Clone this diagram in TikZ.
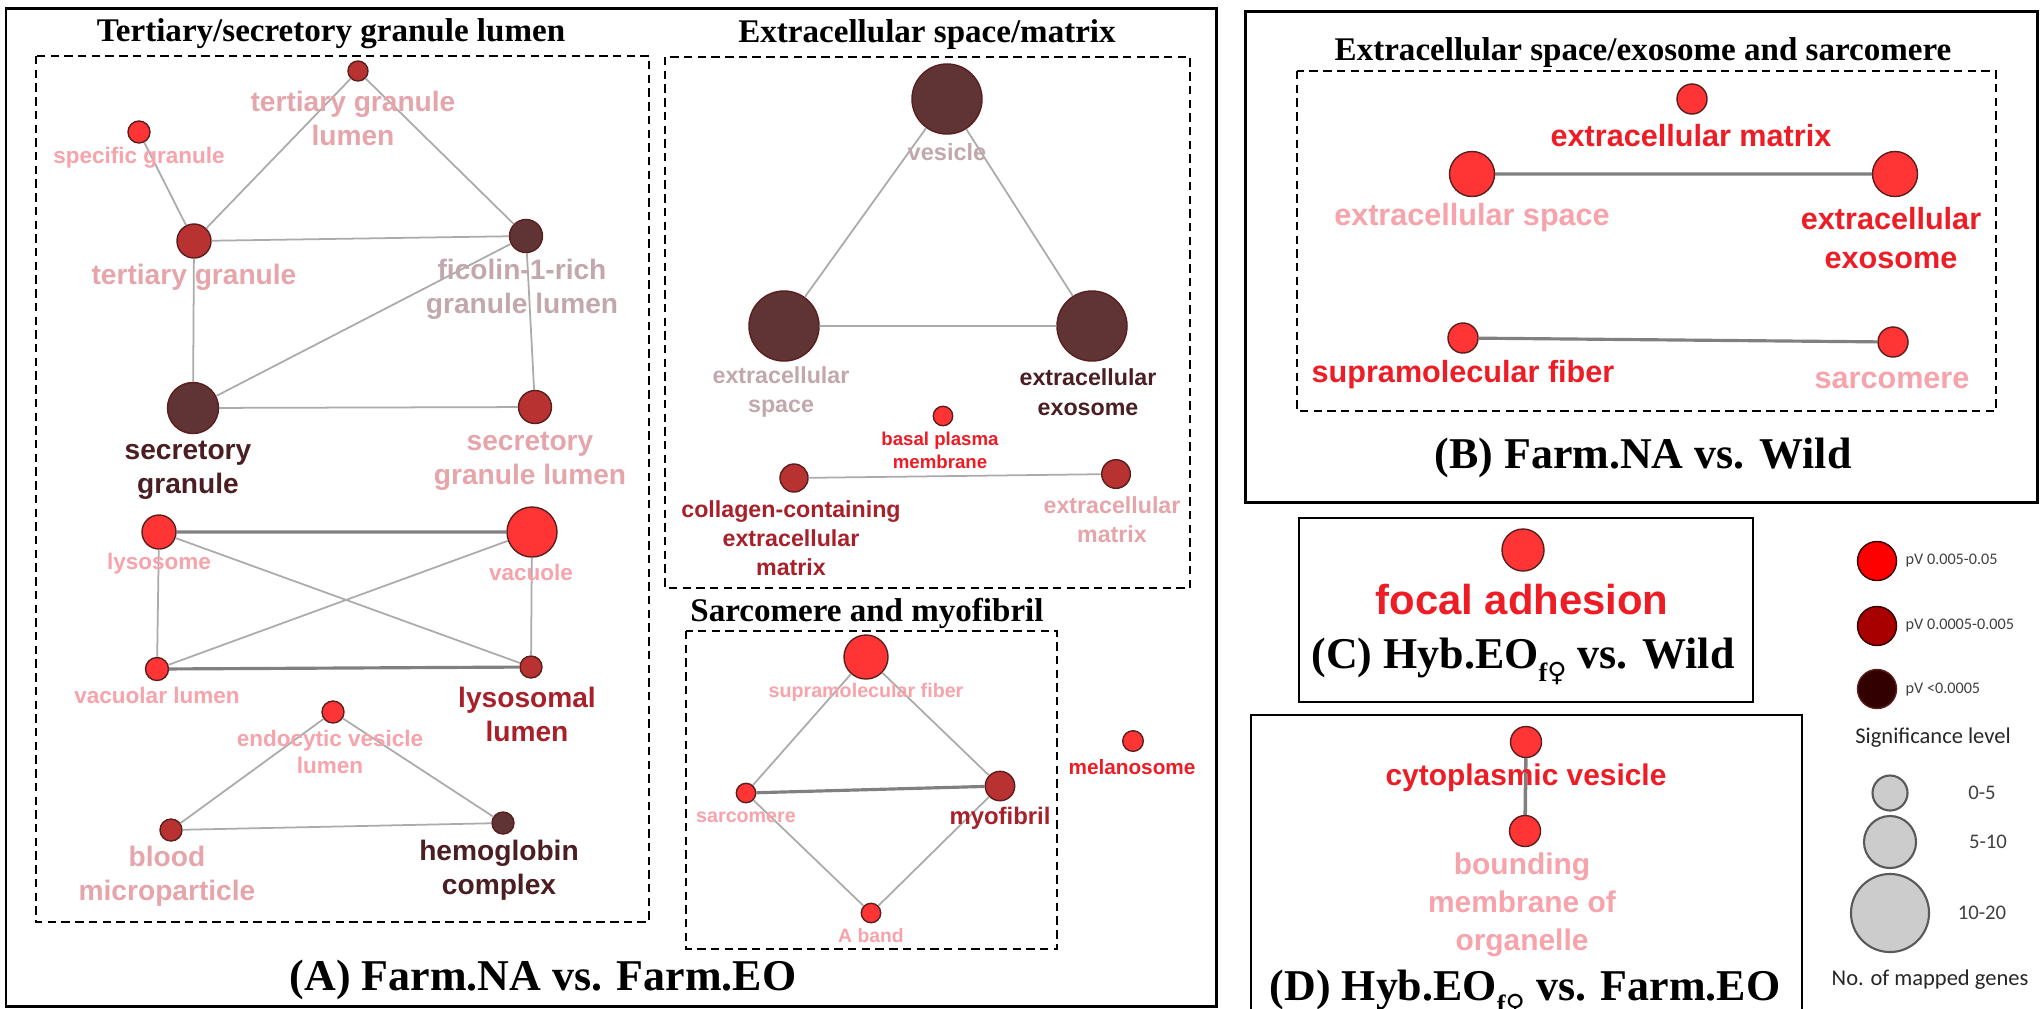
\documentclass[tikz,border=0pt]{standalone}
\usepackage{fontspec}
\setmainfont{Liberation Serif}
\setsansfont{Liberation Sans}
\newfontfamily\legendfont{Carlito}
\newfontfamily\symbolfont{DejaVu Sans}
% Farben der Knoten (Signifikanz) und der Beschriftungen
\definecolor{hellrot}{HTML}{FF3535}
\definecolor{mittelrot}{HTML}{B83232}
\definecolor{dunkelbraun}{HTML}{603434}
\definecolor{randlinie}{HTML}{5A1E1E}
\definecolor{kantengrau}{HTML}{ABABAB}
\definecolor{kantendunkel}{HTML}{808080}
\definecolor{txtrosa}{HTML}{F7A3AB}
\definecolor{txtaltrosa}{HTML}{E5A5AA}
\definecolor{txtmauve}{HTML}{C2A8AC}
\definecolor{txtdunkel}{HTML}{4A1E22}
\definecolor{txtweinrot}{HTML}{A8202A}
\definecolor{txtrot}{HTML}{EE1C25}
\definecolor{legrot}{HTML}{FF0000}
\definecolor{legmittel}{HTML}{A80000}
\definecolor{legdunkel}{HTML}{330000}
\definecolor{leggrau}{HTML}{CCCCCC}
\definecolor{legtext}{HTML}{404040}
% Index "f" mit Venussymbol
\newcommand{\femsub}{\raisebox{-0.3em}{\fontsize{7.5}{8}\selectfont f{\symbolfont\mdseries ♀}}}
\tikzset{
    begriff/.style 2 args={circle, draw=randlinie, line width=0.4pt, fill=#1, minimum size=#2*0.02cm, inner sep=0pt},
    kante/.style={draw=kantengrau, line width=0.5pt},
    kante dick/.style={draw=kantendunkel, line width=0.9pt},
    etikett/.style={align=center, inner sep=0pt},
    schrift/.style 2 args={font=\sffamily\bfseries\fontsize{#1}{#2}\selectfont},
    titel/.style={inner sep=0pt, font=\bfseries\fontsize{9.4}{11}\selectfont},
    panel/.style={inner sep=0pt, font=\bfseries\fontsize{12.5}{14}\selectfont},
    rahmen/.style={draw=black, line width=0.85pt},
    gruppe/.style={draw=black, line width=0.55pt, dash pattern=on 2.4pt off 1.5pt},
    legende/.style={inner sep=0pt, text=legtext, font=\legendfont\fontsize{#1}{#1}\selectfont},
}
\begin{document}
\begin{tikzpicture}[x=0.01cm, y=-0.01cm]
    % Zeichenfläche in Pixeln des Originals (2043 x 1008), die y-Achse zeigt nach unten:
    \useasboundingbox (0,0) rectangle (2043,1008);
    \fill[white] (0,0) rectangle (2043,1008);
    % Die vier äußeren Rahmen (A) bis (D); (D) reicht über den unteren Bildrand hinaus
    \draw[rahmen] (6,8) rectangle (1216,1006);
    \draw[rahmen] (1245,11) rectangle (2037,502);
    \draw[rahmen, line width=0.65pt] (1299,518) rectangle (1753,702);
    \draw[rahmen, line width=0.65pt] (1251,715) rectangle (1802,1020);
    % Gestrichelte Gruppen
    \draw[gruppe] (36,56) rectangle (649,922);
    \draw[gruppe] (665,57) rectangle (1190,588);
    \draw[gruppe] (686,631) rectangle (1057,949);
    \draw[gruppe] (1297,71) rectangle (1996,411);

    % ---------- (A) links: Granula, Lysosomen, Blut ----------
    \node[titel, anchor=base] (t-granula) at (331,41) {Tertiary/secretory granule lumen};
    \node[begriff={mittelrot}{10}] (tgl) at (358,71) {};
    \node[begriff={hellrot}{11}] (spec) at (139,132) {};
    \node[begriff={mittelrot}{17}] (tert) at (194,241) {};
    \node[begriff={dunkelbraun}{16.5}] (fic) at (526,236) {};
    \node[begriff={dunkelbraun}{25.5}] (secg) at (193,408) {};
    \node[begriff={mittelrot}{16.5}] (sgl) at (535,407) {};
    \node[begriff={hellrot}{17}] (lys) at (159,532) {};
    \node[begriff={hellrot}{25}] (vac) at (532,532) {};
    \node[begriff={hellrot}{11.5}] (vacl) at (157,669) {};
    \node[begriff={mittelrot}{11}] (lysl) at (531,667) {};
    \node[begriff={hellrot}{11}] (evl) at (333,712) {};
    \node[begriff={mittelrot}{11}] (blood) at (171,830) {};
    \node[begriff={dunkelbraun}{11}] (hemo) at (503,823) {};
    % Kanten zuerst, damit die Beschriftungen darüber liegen
    \draw[kante] (spec) -- (tert) (tgl) -- (tert) (tgl) -- (fic) (tert) -- (fic)
        (tert) -- (secg) (fic) -- (secg) (fic) -- (sgl) (secg) -- (sgl);
    \draw[kante] (lys) -- (vacl) (lys) -- (lysl) (vac) -- (vacl) (vac) -- (lysl);
    \draw[kante dick] (lys) -- (vac) (vacl) -- (lysl);
    \draw[kante] (evl) -- (blood) (evl) -- (hemo) (blood) -- (hemo);
    \node[etikett, schrift={8}{9.7}, text=txtaltrosa] (l-tgl) at (353,118) {tertiary granule\\lumen};
    \node[etikett, schrift={6.4}{7.8}, text=txtrosa] (l-spec) at (139,158) {specific granule};
    \node[etikett, schrift={8}{9.7}, text=txtaltrosa] (l-tert) at (194,277) {tertiary granule};
    \node[etikett, schrift={8}{9.7}, text=txtmauve] (l-fic) at (522,289) {ficolin-1-rich\\granule lumen};
    \node[etikett, schrift={8}{9.7}, text=txtdunkel] (l-secg) at (188,470) {secretory\\granule};
    \node[etikett, schrift={8}{9.7}, text=txtaltrosa] (l-sgl) at (530,461) {secretory\\granule lumen};
    \node[etikett, schrift={6.4}{7.8}, text=txtrosa] (l-lys) at (159,564) {lysosome};
    \node[etikett, schrift={6.4}{7.8}, text=txtrosa] (l-vac) at (531,572) {vacuole};
    \node[etikett, schrift={6.4}{7.8}, text=txtrosa] (l-vacl) at (157,695) {vacuolar lumen};
    \node[etikett, schrift={8}{9.7}, text=txtweinrot] (l-lysl) at (527,714) {lysosomal\\lumen};
    \node[etikett, schrift={6.4}{7.8}, text=txtrosa] (l-evl) at (330,752) {endocytic vesicle\\lumen};
    \node[etikett, schrift={8}{9.7}, text=txtaltrosa] (l-blood) at (167,876) {blood\\microparticle};
    \node[etikett, schrift={8}{9.7}, text=txtdunkel] (l-hemo) at (499,870) {hemoglobin\\complex};

    % ---------- (A) rechts oben: extrazellulärer Raum ----------
    \node[titel, anchor=base] (t-extra) at (927,42) {Extracellular space/matrix};
    \node[begriff={dunkelbraun}{35}] (ves) at (947,99) {};
    \node[begriff={dunkelbraun}{35}] (exsp) at (784,326) {};
    \node[begriff={dunkelbraun}{35}] (exo) at (1092,326) {};
    \node[begriff={hellrot}{9.7}] (bpm) at (943,416) {};
    \node[begriff={mittelrot}{14}] (coll) at (794,478) {};
    \node[begriff={mittelrot}{14.3}] (ecm) at (1116,474) {};
    \draw[kante] (ves) -- (exsp) (ves) -- (exo) (exsp) -- (exo) (coll) -- (ecm);
    \node[etikett, schrift={6.7}{8.4}, text=txtmauve] (l-ves) at (947,152) {vesicle};
    \node[etikett, schrift={6.6}{8.4}, text=txtmauve] (l-exsp) at (781,392) {extracellular\\space};
    \node[etikett, schrift={6.6}{8.4}, text=txtdunkel] (l-exo) at (1088,392) {extracellular\\exosome};
    \node[etikett, schrift={5.3}{6.5}, text=txtrot] (l-bpm) at (940,450) {basal plasma\\membrane};
    \node[etikett, schrift={6.6}{8.3}, text=txtweinrot] (l-coll) at (791,538) {collagen-containing\\extracellular\\matrix};
    \node[etikett, schrift={6.6}{8.3}, text=txtaltrosa] (l-ecm) at (1112,520) {extracellular\\matrix};

    % ---------- (A) rechts unten: Sarkomer ----------
    \node[titel, anchor=base] (t-sarko) at (867,621) {Sarcomere and myofibril};
    \node[begriff={hellrot}{22}] (sup) at (866,657) {};
    \node[begriff={hellrot}{9.7}] (sarc) at (746,793) {};
    \node[begriff={mittelrot}{14.7}] (myo) at (1000,786) {};
    \node[begriff={hellrot}{9.7}] (aband) at (871,913) {};
    \node[begriff={hellrot}{10.3}] (mel) at (1133,741) {};
    \draw[kante] (sup) -- (sarc) (sup) -- (myo) (sarc) -- (aband) (myo) -- (aband);
    \draw[kante dick] (sarc) -- (myo);
    \node[etikett, schrift={5.6}{6.7}, text=txtrosa] (l-sup) at (866,692) {supramolecular fiber};
    \node[etikett, schrift={5.6}{6.7}, text=txtrosa] (l-sarc) at (746,817) {sarcomere};
    \node[etikett, schrift={6.8}{8}, text=txtweinrot] (l-myo) at (1000,818) {myofibril};
    \node[etikett, schrift={5.5}{6.7}, text=txtrosa] (l-aband) at (871,936) {A band};
    \node[etikett, schrift={5.9}{7}, text=txtrot] (l-mel) at (1132,767) {melanosome};
    \node[panel, anchor=base] (p-a) at (543,990) {(A) Farm.NA vs. Farm.EO};

    % ---------- (B) ----------
    \node[titel, anchor=base] (t-b) at (1643,60) {Extracellular space/exosome and sarcomere};
    \node[begriff={hellrot}{15}] (bem) at (1692,99) {};
    \node[begriff={hellrot}{22.5}] (bsp) at (1472,174) {};
    \node[begriff={hellrot}{22.5}] (bexo) at (1895,174) {};
    \node[begriff={hellrot}{15}] (bsup) at (1463,338) {};
    \node[begriff={hellrot}{15}] (bsarc) at (1893,342) {};
    \draw[kante dick] (bsp) -- (bexo) (bsup) -- (bsarc);
    \node[etikett, schrift={8.7}{11}, text=txtrot] (l-bem) at (1691,136) {extracellular matrix};
    \node[etikett, schrift={8.7}{11}, text=txtrosa] (l-bsp) at (1472,218) {extracellular space};
    \node[etikett, schrift={8.7}{11}, text=txtrot] (l-bexo) at (1891,238) {extracellular\\exosome};
    \node[etikett, schrift={8.7}{11}, text=txtrot] (l-bsup) at (1463,375) {supramolecular fiber};
    \node[etikett, schrift={8.7}{11}, text=txtrosa] (l-bsarc) at (1892,380) {sarcomere};
    \node[panel, anchor=base] (p-b) at (1643,468) {(B) Farm.NA vs. Wild};

    % ---------- (C) und (D) ----------
    \node[begriff={hellrot}{21}] (focal) at (1523,550) {};
    \node[etikett, schrift={11.9}{14}, text=txtrot] (l-focal) at (1522,600) {focal adhesion};
    \node[panel, anchor=base] (p-c) at (1523,668) {(C) Hyb.EO\femsub{} vs. Wild};
    \node[begriff={hellrot}{15.5}] (cyto) at (1526,742) {};
    \node[begriff={hellrot}{15.5}] (bound) at (1525,831) {};
    \draw[kante dick, line width=1pt] (cyto) -- (bound);
    \node[etikett, schrift={8.5}{10.8}, text=txtrot] (l-cyto) at (1526,778) {cytoplasmic vesicle};
    \node[etikett, schrift={8.5}{10.8}, text=txtrosa] (l-bound) at (1522,905) {bounding\\membrane of\\organelle};
    \node[panel, anchor=base] (p-d) at (1525,1000) {(D) Hyb.EO\femsub{} vs. Farm.EO};

    % ---------- Legende ----------
    \node[begriff={legrot}{19.5}, draw=legdunkel] (sig1) at (1877,561) {};
    \node[begriff={legmittel}{19.5}, draw=legdunkel] (sig2) at (1877,626) {};
    \node[begriff={legdunkel}{19.5}] (sig3) at (1877,689) {};
    \node[legende=4.6, anchor=west] (l-sig1) at (1905,561) {pV 0.005-0.05};
    \node[legende=4.6, anchor=west] (l-sig2) at (1905,626) {pV 0.0005-0.005};
    \node[legende=4.6, anchor=west] (l-sig3) at (1905,690) {pV <0.0005};
    \node[legende=6.4, text=black!85] (l-sig) at (1933,738) {Significance level};
    \node[begriff={leggrau}{17.5}, draw=black!65, line width=0.6pt] (gen1) at (1890,793) {};
    \node[begriff={leggrau}{26}, draw=black!65, line width=0.6pt] (gen2) at (1890,842) {};
    \node[begriff={leggrau}{39}, draw=black!65, line width=0.6pt] (gen3) at (1890,913) {};
    \node[legende=5.9] (l-gen1) at (1982,793) {0-5};
    \node[legende=5.9] (l-gen2) at (1988,842) {5-10};
    \node[legende=5.9] (l-gen3) at (1982,913) {10-20};
    \node[legende=6.4, text=black!85] (l-gen) at (1930,980) {No. of mapped genes};
\end{tikzpicture}
\end{document}
